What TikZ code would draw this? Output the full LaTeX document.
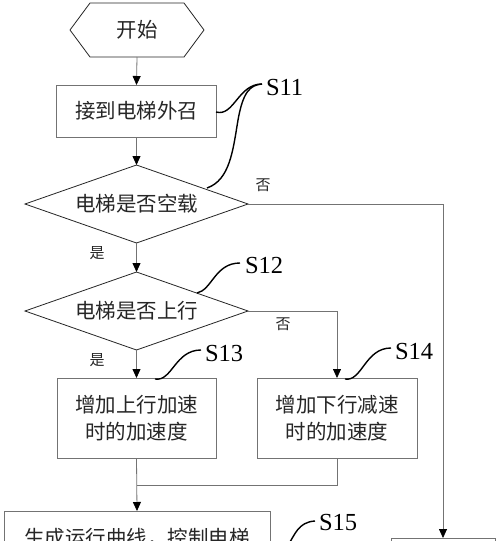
\documentclass[tikz,border=0pt]{standalone}
\usepackage{fontspec}
\setmainfont{Liberation Serif}
\newfontfamily\cjk{Noto Sans CJK SC}
\usetikzlibrary{shapes.geometric,arrows.meta}
\begin{document}
\begin{tikzpicture}[x=1pt,y=-1pt,
  every node/.style={inner sep=0pt, outer sep=0pt},
  boxnode/.style={draw=gray!90!black, line width=0.8pt, font=\cjk\fontsize{20.5}{27}\selectfont, align=center, text=black!85},
  decnode/.style={diamond, draw=black!85, line width=0.8pt, aspect=2.86, minimum width=223pt, minimum height=78pt, font=\cjk\fontsize{20.5}{27}\selectfont, text=black!85},
  conn/.style={draw=gray!90!black, line width=0.8pt},
  arr/.style={conn, -{Triangle[length=9pt,width=8pt,color=black]}},
  yn/.style={font=\cjk\fontsize{15}{17}\selectfont, text=black!85},
  slabel/.style={font=\fontsize{24.5}{27}\selectfont, anchor=west},
  scurve/.style={draw=black, line width=1.4pt}
]
\useasboundingbox (0,0) rectangle (500,541);
\clip (0,0) rectangle (500,541);
\fill[white] (0,0) rectangle (500,541);

% start hexagon
\node (start) [minimum width=134pt, minimum height=54pt, font=\cjk\fontsize{20.5}{27}\selectfont, text=black!85] at (137,30) {开始};
\draw[black!85, line width=0.8pt] (start.west) -- ([xshift=20pt]start.north west) -- ([xshift=-20pt]start.north east) -- (start.east) -- ([xshift=-20pt]start.south east) -- ([xshift=20pt]start.south west) -- cycle;

\node (b1) [boxnode, minimum width=160pt, minimum height=52pt] at (136.5,111) {接到电梯外召};
\node (d1) [decnode] at (136.5,204) {电梯是否空载};
\node (d2) [decnode] at (136.5,311) {电梯是否上行};
\node (b13) [boxnode, minimum width=159pt, minimum height=80pt] at (136.5,418) {增加上行加速\\时的加速度};
\node (b14) [boxnode, minimum width=160pt, minimum height=80pt] at (337,418) {增加下行减速\\时的加速度};
\node (b15) [boxnode, minimum width=266pt, minimum height=82pt] at (137,552) {};
\node (t15) [font=\cjk\fontsize{20.5}{27}\selectfont, text=black!85] at (137,538) {生成运行曲线，控制电梯};
\node (rb) [boxnode, minimum width=104pt, minimum height=80pt] at (443,578) {};

% connectors
\draw[arr] (start.south) -- (b1.north);
\draw[arr] (b1.south) -- (d1.north);
\draw[arr] (d1.south) -- (d2.north);
\draw[arr] (d2.south) -- (b13.north);
\draw[arr] (d2.east) -| (b14.north);
\draw[arr] (d1.east) -| (rb.north);
\coordinate (mj) at (136.5,485);
\draw[conn] (b14.south) |- (mj);
\draw[arr] (b13.south) -- (b15.north);

% yes/no labels
\node (n1) [yn] at (263,185) {否};
\node (y1) [yn] at (97,253) {是};
\node (n2) [yn] at (283,324) {否};
\node (y2) [yn] at (97,360) {是};

% step labels
\node (s11) [slabel] at (266,88) {S11};
\node (s12) [slabel] at (245,266) {S12};
\node (s13) [slabel] at (205,354) {S13};
\node (s14) [slabel] at (395,352) {S14};
\node (s15) [slabel] at (319,523) {S15};

\draw[scurve] (216,112) .. controls (234,117) and (238,84) .. (262,84);
\draw[scurve] (207,188) .. controls (230,180) and (233,150) .. (238,120) .. controls (243,92) and (250,85) .. (262,84);
\draw[scurve] (197,293) .. controls (212,290) and (215,263) .. (240,263);
\draw[scurve] (155,379) .. controls (172,382) and (175,350) .. (201,350);
\draw[scurve] (345,379) .. controls (362,382) and (365,348) .. (391,348);
\draw[scurve] (288,545) .. controls (295,535) and (298,522) .. (315,521);
\end{tikzpicture}
\end{document}
